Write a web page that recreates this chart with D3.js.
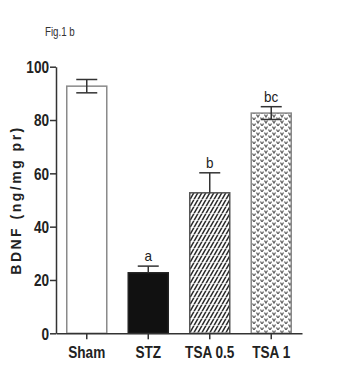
<!DOCTYPE html>
<html><head><meta charset="utf-8">
<script src="https://cdn.jsdelivr.net/npm/d3@7"></script>
<style>
body{margin:0;background:#fff;}
svg{display:block;}
</style></head>
<body>
<svg id="chart" width="339" height="380"></svg>
<script>
const categories = ["Sham", "STZ", "TSA 0.5", "TSA 1"];
const means = [92.7, 22.7, 52.7, 82.6];
const sems = [2.5, 2.5, 7.5, 2.4];
const sigLetters = ["", "a", "b", "bc"];
const errDirs = ["both", "up", "up", "both"];
const yTicks = [0, 20, 40, 60, 80, 100];
const fills = ["#ffffff", "#111111", "url(#hatch)", "url(#dots)"];
const strokes = ["#8a8a8a", "#222222", "#555555", "#888888"];

const narrow = "'Liberation Sans Narrow','Arial Narrow',sans-serif";
const svg = d3.select("#chart");

const defs = svg.append("defs");
const hatch = defs.append("pattern").attr("id","hatch").attr("patternUnits","userSpaceOnUse")
  .attr("width",4).attr("height",7);
hatch.append("rect").attr("width",4).attr("height",7).attr("fill","#fff");
hatch.append("path").attr("d","M-2,10.5 L6,-3.5 M-6,10.5 L2,-3.5 M2,10.5 L10,-3.5").attr("stroke","#2a2a2a").attr("stroke-width",1.5);
hatch.append("line").attr("x1",0).attr("x2",4).attr("y1",3.5).attr("y2",3.5).attr("stroke","#fff").attr("stroke-width",0.6);
const dots = defs.append("pattern").attr("id","dots").attr("patternUnits","userSpaceOnUse")
  .attr("width",8).attr("height",6);
dots.append("rect").attr("width",8).attr("height",6).attr("fill","#fff");
dots.append("path").attr("d","M0.5,0.5 L2,3 L3.5,0.5 M4.5,3.5 L6,6 L7.5,3.5").attr("stroke","#666").attr("stroke-width",1.3).attr("fill","none");

const x = d3.scaleBand().domain(categories).range([56, 302]).paddingInner(0.333).paddingOuter(0.1667);
const y = d3.scaleLinear().domain([0, 100]).range([333.3, 66.7]);

// bars
svg.append("g").selectAll("rect").data(categories).join("rect")
  .attr("x", d => x(d)+0.5)
  .attr("y", (d,i) => y(means[i]))
  .attr("width", x.bandwidth()-1)
  .attr("height", (d,i) => y(0)-y(means[i]))
  .attr("fill", (d,i) => fills[i])
  .attr("stroke", (d,i) => strokes[i])
  .attr("stroke-width", 1.5);

// error bars
const capW = 21;
const eg = svg.append("g").attr("stroke","#333").attr("stroke-width",1.5).attr("fill","none");
categories.forEach((c,i) => {
  const cx = x(c) + x.bandwidth()/2;
  const top = y(means[i]+sems[i]);
  const bot = errDirs[i]==="both" ? y(means[i]-sems[i]) : y(means[i]);
  eg.append("line").attr("x1",cx).attr("x2",cx).attr("y1",top).attr("y2",bot);
  eg.append("line").attr("x1",cx-capW/2).attr("x2",cx+capW/2).attr("y1",top).attr("y2",top);
  if (errDirs[i]==="both")
    eg.append("line").attr("x1",cx-capW/2).attr("x2",cx+capW/2).attr("y1",bot).attr("y2",bot);
});

// significance letters
categories.forEach((c,i) => {
  if (!sigLetters[i]) return;
  const cx = x(c) + x.bandwidth()/2;
  svg.append("text")
    .attr("transform", `translate(${cx},${y(means[i]+sems[i]) - 5}) scale(0.9,1)`)
    .attr("text-anchor","middle")
    .style("font-family", narrow).style("font-size","15px").attr("fill","#222")
    .text(sigLetters[i]);
});

// y axis
const yAxis = svg.append("g").attr("transform","translate(56,0)")
  .call(d3.axisLeft(y).tickValues(yTicks).tickSize(6).tickPadding(0).tickSizeOuter(0));
yAxis.select(".domain").attr("stroke","#333").attr("stroke-width",1.5);
yAxis.selectAll(".tick line").attr("stroke","#333").attr("stroke-width",1.5);
yAxis.selectAll(".tick text")
  .attr("x", -7/0.85).attr("dy","0.36em")
  .attr("transform","scale(0.85,1)")
  .style("font-family", narrow).style("font-size","16px").style("font-weight","bold").attr("fill","#222");

// x axis
const xAxis = svg.append("g").attr("transform",`translate(0,${y(0)})`)
  .call(d3.axisBottom(x).tickSize(6).tickPadding(0).tickSizeOuter(0));
xAxis.select(".domain").attr("stroke","#333").attr("stroke-width",1.5);
xAxis.selectAll(".tick line").attr("stroke","#333").attr("stroke-width",1.5);
xAxis.selectAll(".tick text")
  .attr("y", 25).attr("dy", 0)
  .attr("transform","scale(0.85,1)")
  .style("font-family", narrow).style("font-size","16px").style("font-weight","bold").attr("fill","#222");

// y label
svg.append("text")
  .attr("transform","translate(21,200) rotate(-90)")
  .attr("text-anchor","middle")
  .style("font-family","'Liberation Sans',Arial,sans-serif").style("font-size","14px").style("font-weight","bold")
  .style("letter-spacing","2.5px").attr("fill","#222")
  .text("BDNF (ng/mg pr)");

// figure tag
svg.append("text")
  .attr("transform","translate(45,36) scale(0.75,1)")
  .style("font-family", narrow).style("font-size","13px").attr("fill","#333")
  .text("Fig.1 b");
</script>
</body></html>
